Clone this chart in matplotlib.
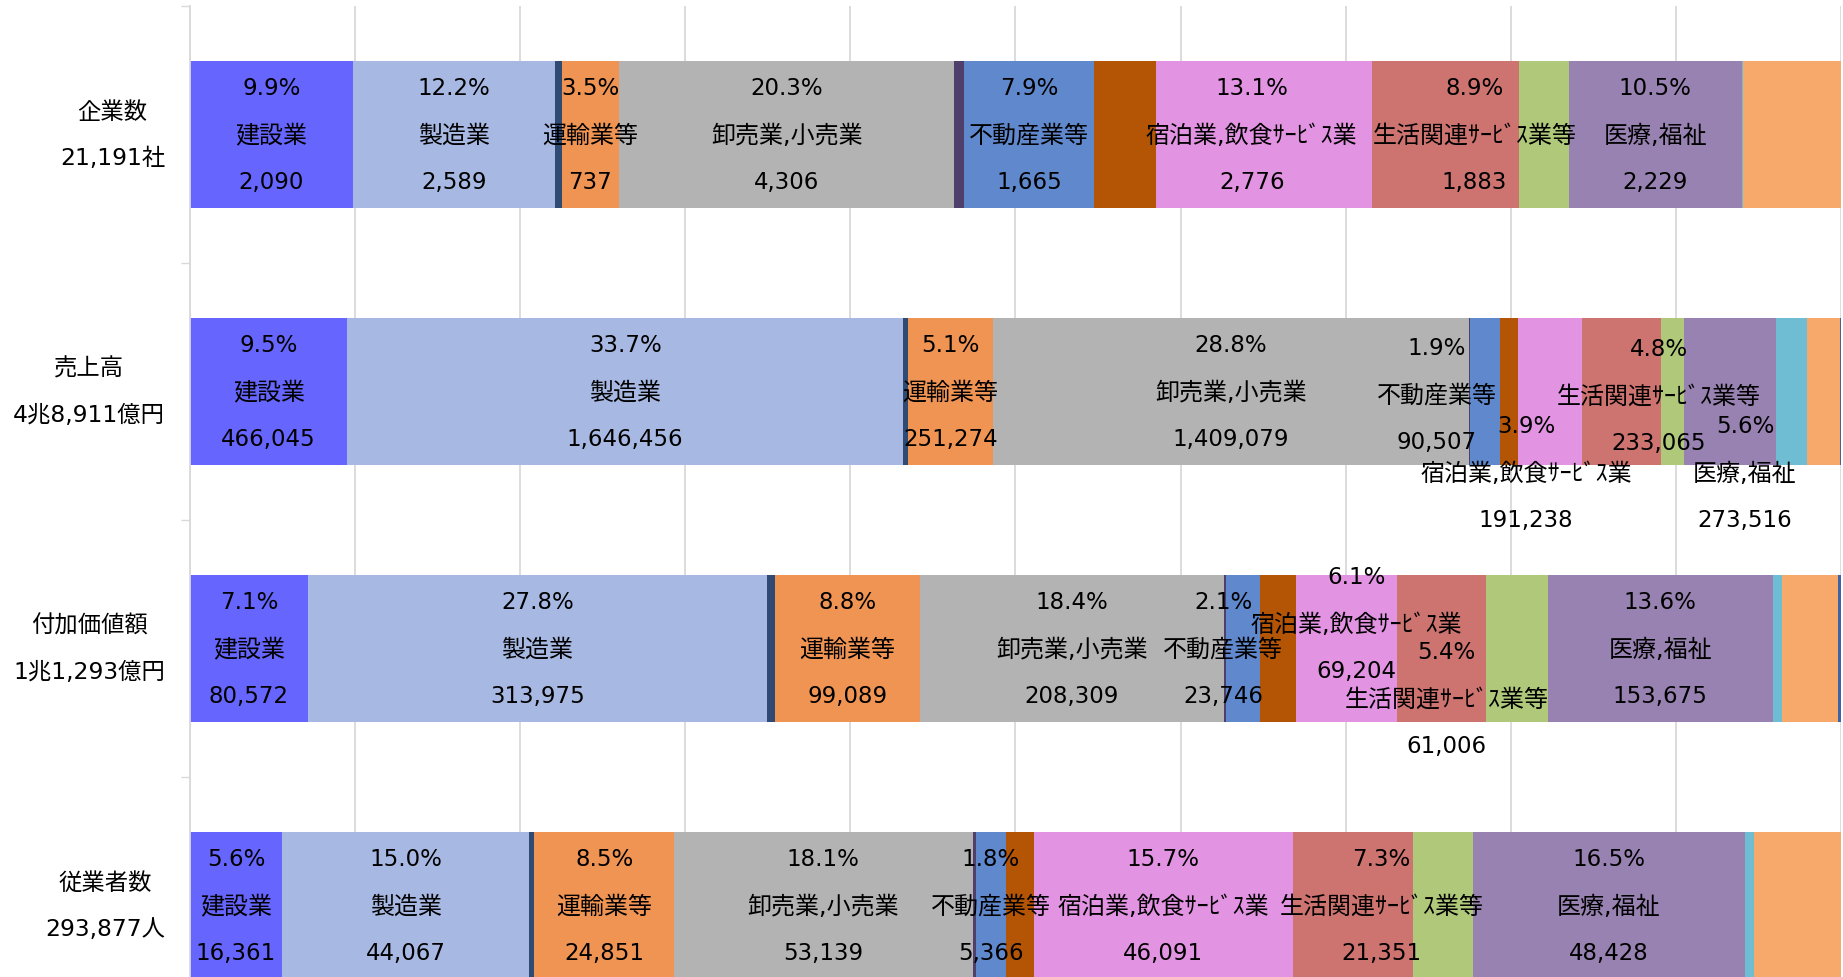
"""Industry composition of companies, sales, value added and employees (100% stacked bars)."""

import matplotlib.pyplot as plt
import numpy as np

# Latin glyphs from DejaVu (wide digits like the original), CJK from Noto
plt.rcParams['font.family'] = ['DejaVu Sans', 'Noto Sans CJK JP']

# row labels (top to bottom)
row_labels = ['企業数\n21,191社', '売上高\n4兆8,911億円', '付加価値額\n1兆1,293億円', '従業者数\n293,877人']

# series in stacking order; '' = segment drawn without a data label
industries = ['建設業', '製造業', '', '運輸業等', '卸売業,小売業', '', '不動産業等', '',
              '宿泊業,飲食ｻｰﾋﾞｽ業', '生活関連ｻｰﾋﾞｽ業等', '', '医療,福祉', '', '', '']

# values per series: [企業数, 売上高, 付加価値額, 従業者数]
kensetsu = [2090, 466045, 80572, 16361]
seizo = [2589, 1646456, 313975, 44067]
other_a = [90, 15000, 5500, 890]
unyu = [737, 251274, 99089, 24851]
oroshi = [4306, 1409079, 208309, 53139]
other_b = [128, 3000, 1000, 530]
fudosan = [1665, 90507, 23746, 5366]
other_c = [790, 52000, 24000, 5000]
shukuhaku = [2776, 191238, 69204, 46091]
seikatsu = [1883, 233065, 61006, 21351]
other_d = [640, 68000, 42400, 10700]
iryo = [2229, 273516, 153675, 48428]
other_e = [13, 90000, 6800, 1600]
other_f = [1255, 100420, 38024, 15503]
other_g = [0, 1500, 2000, 0]

values = np.array([kensetsu, seizo, other_a, unyu, oroshi, other_b, fudosan, other_c,
                   shukuhaku, seikatsu, other_d, iryo, other_e, other_f, other_g], dtype=float)

colors = ['#6666FF', '#A7B9E3', '#2F4B73', '#F09454', '#B3B3B3', '#4E3F6B', '#6088CD',
          '#B45506', '#E293E2', '#CD7370', '#AFC87A', '#9882B1', '#6FBDD2', '#F7A96B', '#3F64A5']

# hand-moved data labels: (row, industry) -> (dx, dy) in pixels, dy downwards
label_moves = {
    (0, '宿泊業,飲食ｻｰﾋﾞｽ業'): (-12, 0),
    (0, '生活関連ｻｰﾋﾞｽ業等'): (29, 0),
    (1, '不動産業等'): (-48, 3),
    (1, '宿泊業,飲食ｻｰﾋﾞｽ業'): (-24, 81),
    (1, '生活関連ｻｰﾋﾞｽ業等'): (37, 4),
    (1, '医療,福祉'): (15, 81),
    (2, '不動産業等'): (-20, 0),
    (2, '宿泊業,飲食ｻｰﾋﾞｽ業'): (10, -25),
    (2, '生活関連ｻｰﾋﾞｽ業等'): (5, 50),
    (3, '生活関連ｻｰﾋﾞｽ業等'): (29, 0),
}

totals = values.sum(axis=0)
shares = values / totals
y = np.arange(len(row_labels))

fig = plt.figure(figsize=(18.43, 9.78), dpi=100)
ax = fig.add_axes([0.1031, -0.0583, 0.8958, 1.0511])

left = np.zeros(len(row_labels))
num_fs = 16.5
name_fs = 17.3
line_gap = 47  # pixels between label lines
for i, (name, col) in enumerate(zip(industries, colors)):
    ax.barh(y, shares[i], left=left, height=0.572, color=col, edgecolor='none', zorder=2)
    if name:
        for r in range(len(row_labels)):
            dx, dy = label_moves.get((r, name), (0, 0))
            cx = left[r] + shares[i, r] / 2
            lines = [(f'{shares[i, r] * 100:.1f}%', num_fs), (name, name_fs),
                     (f'{int(values[i, r]):,}', num_fs)]
            for k, (txt, size) in enumerate(lines):
                ax.annotate(txt, (cx, y[r]), xytext=(dx, -dy - (k - 1) * line_gap),
                            textcoords='offset pixels', ha='center', va='center',
                            fontsize=size, color='black', zorder=3)
    left += shares[i]

ax.set_xlim(0, 1)
ax.set_ylim(3.5, -0.5)
ax.set_xticks(np.arange(0, 1.01, 0.1))
ax.tick_params(axis='x', length=0, labelbottom=False)
ax.xaxis.grid(True, color='#D9D9D9', linewidth=1.3, zorder=0)
ax.set_axisbelow(True)

ax.set_yticks(y)
ax.set_yticklabels(row_labels, fontsize=16.8, va='center')
for lbl in ax.get_yticklabels():
    lbl.set_multialignment('center')
    lbl.set_linespacing(2.3)
ax.set_yticks(np.arange(-0.5, 3.6, 1), minor=True)
ax.tick_params(axis='y', which='major', length=0, pad=18)
ax.tick_params(axis='y', which='minor', length=6.5, width=1, color='#D9D9D9')

for side in ['top', 'right', 'bottom']:
    ax.spines[side].set_visible(False)
ax.spines['left'].set_color('#D9D9D9')
ax.spines['left'].set_linewidth(1.3)

plt.savefig('out.png', dpi=100)
plt.close()
